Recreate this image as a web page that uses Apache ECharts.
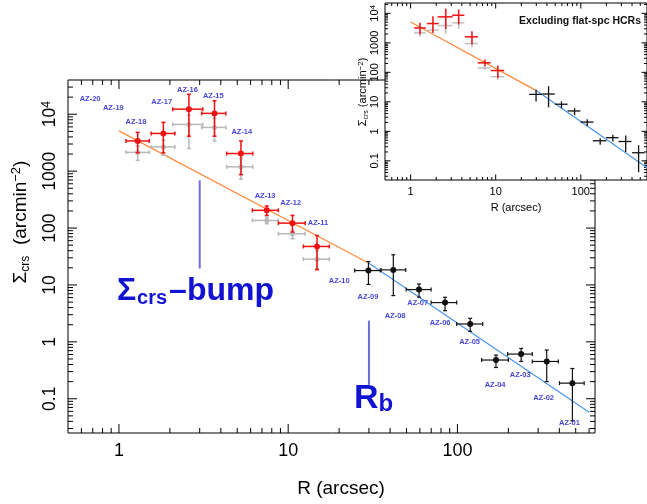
<!DOCTYPE html>
<html><head><meta charset="utf-8">
<script src="https://cdn.jsdelivr.net/npm/echarts@6/dist/echarts.min.js"></script>
<style>html,body{margin:0;padding:0;background:#fff}#c{width:647px;height:504px}</style>
</head><body><div id="c"></div>
<script>
// ---------------- DATA ----------------
// Inner annuli (red, with systematic-corrected values) AZ-18 .. AZ-11
const redNames = ['AZ-18','AZ-17','AZ-16','AZ-15','AZ-14','AZ-13','AZ-12','AZ-11'];
const redR   = [1.29, 1.83, 2.59, 3.67, 5.26, 7.47, 10.6, 14.8];
const redRlo = [1.10, 1.55, 2.08, 3.08, 4.33, 6.14, 8.75, 12.3];
const redRhi = [1.51, 2.14, 3.13, 4.28, 6.18, 8.75, 12.6, 17.5];
const redS   = [3400, 4600, 12300, 10360, 2040, 205, 122, 47.5];
const redSlo = [2100, 2100, 4120, 4120, 870, 167, 85, 18.5];
const redShi = [4800, 7200, 22400, 17300, 3400, 244, 167, 74];
// Gray (uncorrected) counterparts
const grayS   = [2140, 2670, 6620, 5860, 1190, 136, 79.5, 28.4];
const graySlo = [1550, 1900, 2500, 3400, 720, 119, 65, 19.5];
const grayShi = [2760, 3500, 9660, 8450, 1670, 156, 91, 40];
// Outer annuli (black) AZ-09 .. AZ-01
const blackR   = [29.8, 41.8, 59.3, 84.5, 119, 169, 238, 337, 478];
const blackRlo = [24.7, 35.4, 49.8, 69.9, 99, 139, 198, 277, 401];
const blackRhi = [35, 49.5, 69.9, 99, 141, 200, 277, 395, 561];
const blackS   = [17.9, 18.4, 8.3, 4.9, 2.06, 0.479, 0.61, 0.452, 0.188];
const blackSlo = [10.2, 6.5, 6.1, 3.53, 1.53, 0.354, 0.452, 0.2, 0.041];
const blackShi = [25.8, 33.9, 10.4, 6.07, 2.59, 0.586, 0.766, 0.718, 0.34];
// Broken power-law fit
const fitInR = [1, 30],  fitInS = [5100, 24];
const fitOutR = [30, 600], fitOutS = [24, 0.058];
// Annotation markers
const bumpR = [3, 3], bumpS = [690, 19.5];
const rbR = [30, 30], rbS = [2.36, 0.175];
// Zone labels (anchor in data units)
const zoneNames = ['AZ-20','AZ-19','AZ-18','AZ-17','AZ-16','AZ-15','AZ-14','AZ-13','AZ-12','AZ-11','AZ-10','AZ-09','AZ-08','AZ-07','AZ-06','AZ-05','AZ-04','AZ-03','AZ-02','AZ-01'];
const zoneR = [0.675, 0.927, 1.26, 1.79, 2.54, 3.61, 5.32, 7.3, 10.35, 15, 20, 29.6, 42.8, 58.2, 79, 118, 167, 235, 323, 459];
const zoneS = [18500, 12700, 7360, 16200, 26700, 20900, 4910, 366, 275, 124, 11.9, 6.24, 2.8, 4.75, 2.17, 0.977, 0.175, 0.26, 0.105, 0.037];
// Inset: excluding flat-spectrum HCRs (AZ-18 .. AZ-12)
const insRedS   = [3200, 4500, 7600, 8600, 1600, 210, 115];
const insRedSlo = [1910, 2190, 2970, 4170, 875, 161, 64];
const insRedShi = [4770, 7900, 14200, 13400, 2470, 272, 170];
const insGrayS   = [2190, 2690, 3850, 4770, 946, 141, 71];
const insGraySlo = [1600, 1900, 2000, 3000, 700, 120, 55];
const insGrayShi = [2900, 3600, 6500, 7000, 1250, 165, 90];
// Tick labels
const xTickMain = [1, 10, 100];
const yTickMain = [0.1, 1, 10, 100, 1000, 10000];

// ---------------- HELPERS ----------------
const FONT = '"Liberation Sans", Arial, Helvetica, sans-serif';
function rows(R, Rlo, Rhi, S, Slo, Shi) {
  return R.map((r, i) => [r, S[i], Rlo[i], Rhi[i], Slo[i], Shi[i]]);
}
function errRender(st) {
  return function (params, api) {
    const x = api.value(0), y = api.value(1);
    const p = api.coord([x, y]);
    const pl = api.coord([api.value(2), y]), ph = api.coord([api.value(3), y]);
    const pb = api.coord([x, api.value(4)]), pt = api.coord([x, api.value(5)]);
    const c = st.cap;
    const L = [[pl[0], p[1], ph[0], p[1]], [p[0], pb[1], p[0], pt[1]]];
    if (c > 0) {
      L.push([pl[0], p[1] - c, pl[0], p[1] + c], [ph[0], p[1] - c, ph[0], p[1] + c],
             [p[0] - c, pb[1], p[0] + c, pb[1]], [p[0] - c, pt[1], p[0] + c, pt[1]]);
    }
    const ch = L.map(l => ({ type: 'line', shape: { x1: l[0], y1: l[1], x2: l[2], y2: l[3] },
      style: { stroke: st.color, lineWidth: st.w } }));
    if (st.r > 0) ch.push({ type: 'circle', shape: { cx: p[0], cy: p[1], r: st.r }, style: { fill: st.color } });
    return { type: 'group', children: ch };
  };
}
function tickVals(lo, hi) { // log minor/major positions within [lo,hi]
  const out = [];
  for (let e = Math.floor(Math.log10(lo)); e <= Math.ceil(Math.log10(hi)); e++) {
    for (let m = 1; m <= 9; m++) {
      const v = m * Math.pow(10, e);
      if (v >= lo * 1.0001 && v <= hi * 0.9999) out.push([v, m === 1 ? 1 : 0]);
    }
  }
  return out;
}
function tickSeries(axis, lo, hi, ref, xi, yi, majL, minL, z) {
  const data = tickVals(lo, hi).map(t => axis === 'x' ? [t[0], ref, t[1]] : [ref, t[0], t[1]]);
  return {
    type: 'custom', xAxisIndex: xi, yAxisIndex: yi, z: z, silent: true, clip: false, data: data,
    renderItem: function (params, api) {
      const cs = params.coordSys; const L = api.value(2) === 1 ? majL : minL;
      let segs;
      if (axis === 'x') {
        const px = api.coord([api.value(0), api.value(1)])[0];
        segs = [[px, cs.y + cs.height, px, cs.y + cs.height - L], [px, cs.y, px, cs.y + L]];
      } else {
        const py = api.coord([api.value(0), api.value(1)])[1];
        segs = [[cs.x, py, cs.x + L, py], [cs.x + cs.width, py, cs.x + cs.width - L, py]];
      }
      return { type: 'group', children: segs.map(s => ({ type: 'line',
        shape: { x1: s[0], y1: s[1], x2: s[2], y2: s[3] }, style: { stroke: '#000', lineWidth: 1 } })) };
    }
  };
}
function yFmt(v) { if (v > 5000) return '{b|10}{sup|4}'; return '{b|' + (+v.toPrecision(3)) + '}'; }
function xFmt(v) { return String(+v.toPrecision(3)); }

const MX = [0.5, 650], MY = [0.025, 40000];
const IX = [0.5, 600], IY = [0.0224, 22400];

const blue = '#1212d2';
const option = {
  animation: false,
  backgroundColor: '#fff',
  grid: [
    { left: 68, right: 52, top: 80, bottom: 71, show: true, borderColor: '#000', borderWidth: 1, backgroundColor: 'transparent', z: 0 },
    { left: 385, right: 0, top: 3, bottom: 324, show: true, borderColor: '#000', borderWidth: 1, backgroundColor: '#fff', z: 10 }
  ],
  xAxis: [
    { type: 'log', gridIndex: 0, min: MX[0], max: MX[1], logBase: 10,
      axisLine: { show: false }, axisTick: { show: false }, splitLine: { show: false },
      axisLabel: { show: true, margin: 9, color: '#000', fontSize: 18, fontFamily: FONT,
        customValues: xTickMain, formatter: xFmt } },
    { type: 'log', gridIndex: 1, min: IX[0], max: IX[1], logBase: 10, z: 11,
      axisLine: { show: false }, axisTick: { show: false }, splitLine: { show: false },
      axisLabel: { show: true, margin: 6, color: '#000', fontSize: 11, fontFamily: FONT,
        customValues: xTickMain, formatter: xFmt } }
  ],
  yAxis: [
    { type: 'log', gridIndex: 0, min: MY[0], max: MY[1], logBase: 10,
      axisLine: { show: false }, axisTick: { show: false }, splitLine: { show: false },
      axisLabel: { show: true, rotate: 90, margin: 9, color: '#000', fontFamily: FONT,
        customValues: yTickMain, formatter: yFmt,
        rich: { b: { fontSize: 17.5, fontFamily: FONT, color: '#000', lineHeight: 18 },
                sup: { fontSize: 12, fontFamily: FONT, color: '#000', verticalAlign: 'top', lineHeight: 10 } } } },
    { type: 'log', gridIndex: 1, min: IY[0], max: IY[1], logBase: 10, z: 11,
      axisLine: { show: false }, axisTick: { show: false }, splitLine: { show: false },
      axisLabel: { show: true, rotate: 90, margin: 5, color: '#000', fontFamily: FONT,
        customValues: yTickMain, formatter: yFmt,
        rich: { b: { fontSize: 11, fontFamily: FONT, color: '#000', lineHeight: 11 },
                sup: { fontSize: 8, fontFamily: FONT, color: '#000', verticalAlign: 'top', lineHeight: 7 } } } }
  ],
  series: [
    tickSeries('x', MX[0], MX[1], 1, 0, 0, 9, 5, 3),
    tickSeries('y', MY[0], MY[1], 1, 0, 0, 9, 5, 3),
    { type: 'line', xAxisIndex: 0, yAxisIndex: 0, data: fitInR.map((r, i) => [r, fitInS[i]]), showSymbol: false, silent: true,
      lineStyle: { color: '#ff8a3c', width: 1.2 }, z: 2 },
    { type: 'line', xAxisIndex: 0, yAxisIndex: 0, data: fitOutR.map((r, i) => [r, fitOutS[i]]), showSymbol: false, silent: true,
      lineStyle: { color: '#4a95ea', width: 1.2 }, z: 2 },
    { type: 'line', xAxisIndex: 0, yAxisIndex: 0, data: bumpR.map((r, i) => [r, bumpS[i]]), showSymbol: false, silent: true,
      lineStyle: { color: '#6b6bdc', width: 2 }, z: 2 },
    { type: 'line', xAxisIndex: 0, yAxisIndex: 0, data: rbR.map((r, i) => [r, rbS[i]]), showSymbol: false, silent: true,
      lineStyle: { color: '#6b6bdc', width: 2 }, z: 2 },
    { type: 'custom', xAxisIndex: 0, yAxisIndex: 0, z: 3, clip: false, data: rows(redR, redRlo, redRhi, grayS, graySlo, grayShi),
      renderItem: errRender({ color: '#b8b8b8', w: 1.5, cap: 2, r: 2.5 }), encode: { x: 0, y: 1 } },
    { type: 'custom', xAxisIndex: 0, yAxisIndex: 0, z: 4, clip: false, data: rows(redR, redRlo, redRhi, redS, redSlo, redShi),
      renderItem: errRender({ color: '#ee1111', w: 1.5, cap: 2, r: 3 }), encode: { x: 0, y: 1 } },
    { type: 'custom', xAxisIndex: 0, yAxisIndex: 0, z: 4, clip: false, data: rows(blackR, blackRlo, blackRhi, blackS, blackSlo, blackShi),
      renderItem: errRender({ color: '#111', w: 1.2, cap: 2, r: 3 }), encode: { x: 0, y: 1 } },
    { type: 'scatter', xAxisIndex: 0, yAxisIndex: 0, z: 5, symbolSize: 0, silent: true,
      data: zoneNames.map((n, i) => ({ value: [zoneR[i], zoneS[i]], name: n })),
      label: { show: true, position: 'inside', formatter: p => p.name, color: blue, fontSize: 7.5, fontWeight: 'bold', fontFamily: FONT } },

    tickSeries('x', IX[0], IX[1], 1, 1, 1, 5.5, 3, 12),
    tickSeries('y', IY[0], IY[1], 1, 1, 1, 5.5, 3, 12),
    { type: 'line', xAxisIndex: 1, yAxisIndex: 1, z: 12, data: fitInR.map((r, i) => [r, fitInS[i]]), showSymbol: false, silent: true,
      lineStyle: { color: '#ff8a3c', width: 1.2 } },
    { type: 'line', xAxisIndex: 1, yAxisIndex: 1, z: 12, data: fitOutR.map((r, i) => [r, fitOutS[i]]), showSymbol: false, silent: true,
      lineStyle: { color: '#4a95ea', width: 1.2 } },
    { type: 'custom', xAxisIndex: 1, yAxisIndex: 1, z: 13, clip: false,
      data: rows(redR.slice(0, 7), redRlo.slice(0, 7), redRhi.slice(0, 7), insGrayS, insGraySlo, insGrayShi),
      renderItem: errRender({ color: '#c0c0c0', w: 1.5, cap: 0, r: 0 }), encode: { x: 0, y: 1 } },
    { type: 'custom', xAxisIndex: 1, yAxisIndex: 1, z: 14, clip: false,
      data: rows(redR.slice(0, 7), redRlo.slice(0, 7), redRhi.slice(0, 7), insRedS, insRedSlo, insRedShi),
      renderItem: errRender({ color: '#ee1111', w: 1.5, cap: 0, r: 0 }), encode: { x: 0, y: 1 } },
    { type: 'custom', xAxisIndex: 1, yAxisIndex: 1, z: 14, clip: false,
      data: rows(blackR, blackRlo, blackRhi, blackS, blackSlo, blackShi),
      renderItem: errRender({ color: '#111', w: 1.3, cap: 0, r: 0 }), encode: { x: 0, y: 1 } }
  ],
  graphic: [
    { type: 'text', x: 341, y: 489, z: 5, style: { text: 'R (arcsec)', fontSize: 19, fontFamily: FONT, fill: '#000', align: 'center', verticalAlign: 'middle' } },
    { type: 'text', x: 21, y: 222, rotation: Math.PI / 2, z: 5,
      style: { text: '{a|Σ}{s|crs}{a|  (arcmin}{p|−2}{a|)}', align: 'center', verticalAlign: 'middle',
        rich: { a: { fontSize: 19, fontFamily: FONT, fill: '#000', lineHeight: 22 },
                s: { fontSize: 12, fontFamily: FONT, fill: '#000', verticalAlign: 'bottom', lineHeight: 12 },
                p: { fontSize: 13, fontFamily: FONT, fill: '#000', verticalAlign: 'top', lineHeight: 13 } } } },
    { type: 'text', x: 274, y: 291, z: 5,
      style: { text: '{a|Σ}{s|crs}{a|–bump}', align: 'right', verticalAlign: 'middle',
        rich: { a: { fontSize: 32, fontWeight: 'bold', fontFamily: FONT, fill: blue, lineHeight: 34 },
                s: { fontSize: 20, fontWeight: 'bold', fontFamily: FONT, fill: blue, verticalAlign: 'bottom', lineHeight: 18, padding: [0, 2, 0, 1] } } } },
    { type: 'text', x: 354, y: 399, z: 5,
      style: { text: '{a|R}{s|b}', align: 'left', verticalAlign: 'middle',
        rich: { a: { fontSize: 34, fontWeight: 'bold', fontFamily: FONT, fill: blue, lineHeight: 34 },
                s: { fontSize: 24, fontWeight: 'bold', fontFamily: FONT, fill: blue, verticalAlign: 'bottom', lineHeight: 22 } } } },
    { type: 'text', x: 641, y: 21, z: 20, style: { text: 'Excluding flat-spc HCRs', fontSize: 10.5, fontWeight: 'bold', fontFamily: FONT, fill: '#111', align: 'right', verticalAlign: 'middle' } },
    { type: 'text', x: 516, y: 208, z: 20, style: { text: 'R (arcsec)', fontSize: 11, fontFamily: FONT, fill: '#000', align: 'center', verticalAlign: 'middle' } },
    { type: 'text', x: 363, y: 92, rotation: Math.PI / 2, z: 20,
      style: { text: '{a|Σ}{s|crs}{a| (arcmin}{p|−2}{a|)}', align: 'center', verticalAlign: 'middle',
        rich: { a: { fontSize: 11, fontFamily: FONT, fill: '#000', lineHeight: 13 },
                s: { fontSize: 7, fontFamily: FONT, fill: '#000', verticalAlign: 'bottom', lineHeight: 7 },
                p: { fontSize: 8, fontFamily: FONT, fill: '#000', verticalAlign: 'top', lineHeight: 8 } } } }
  ]
};
const chart = echarts.init(document.getElementById('c'), null, { renderer: 'canvas' });
chart.setOption(option);
</script></body></html>
